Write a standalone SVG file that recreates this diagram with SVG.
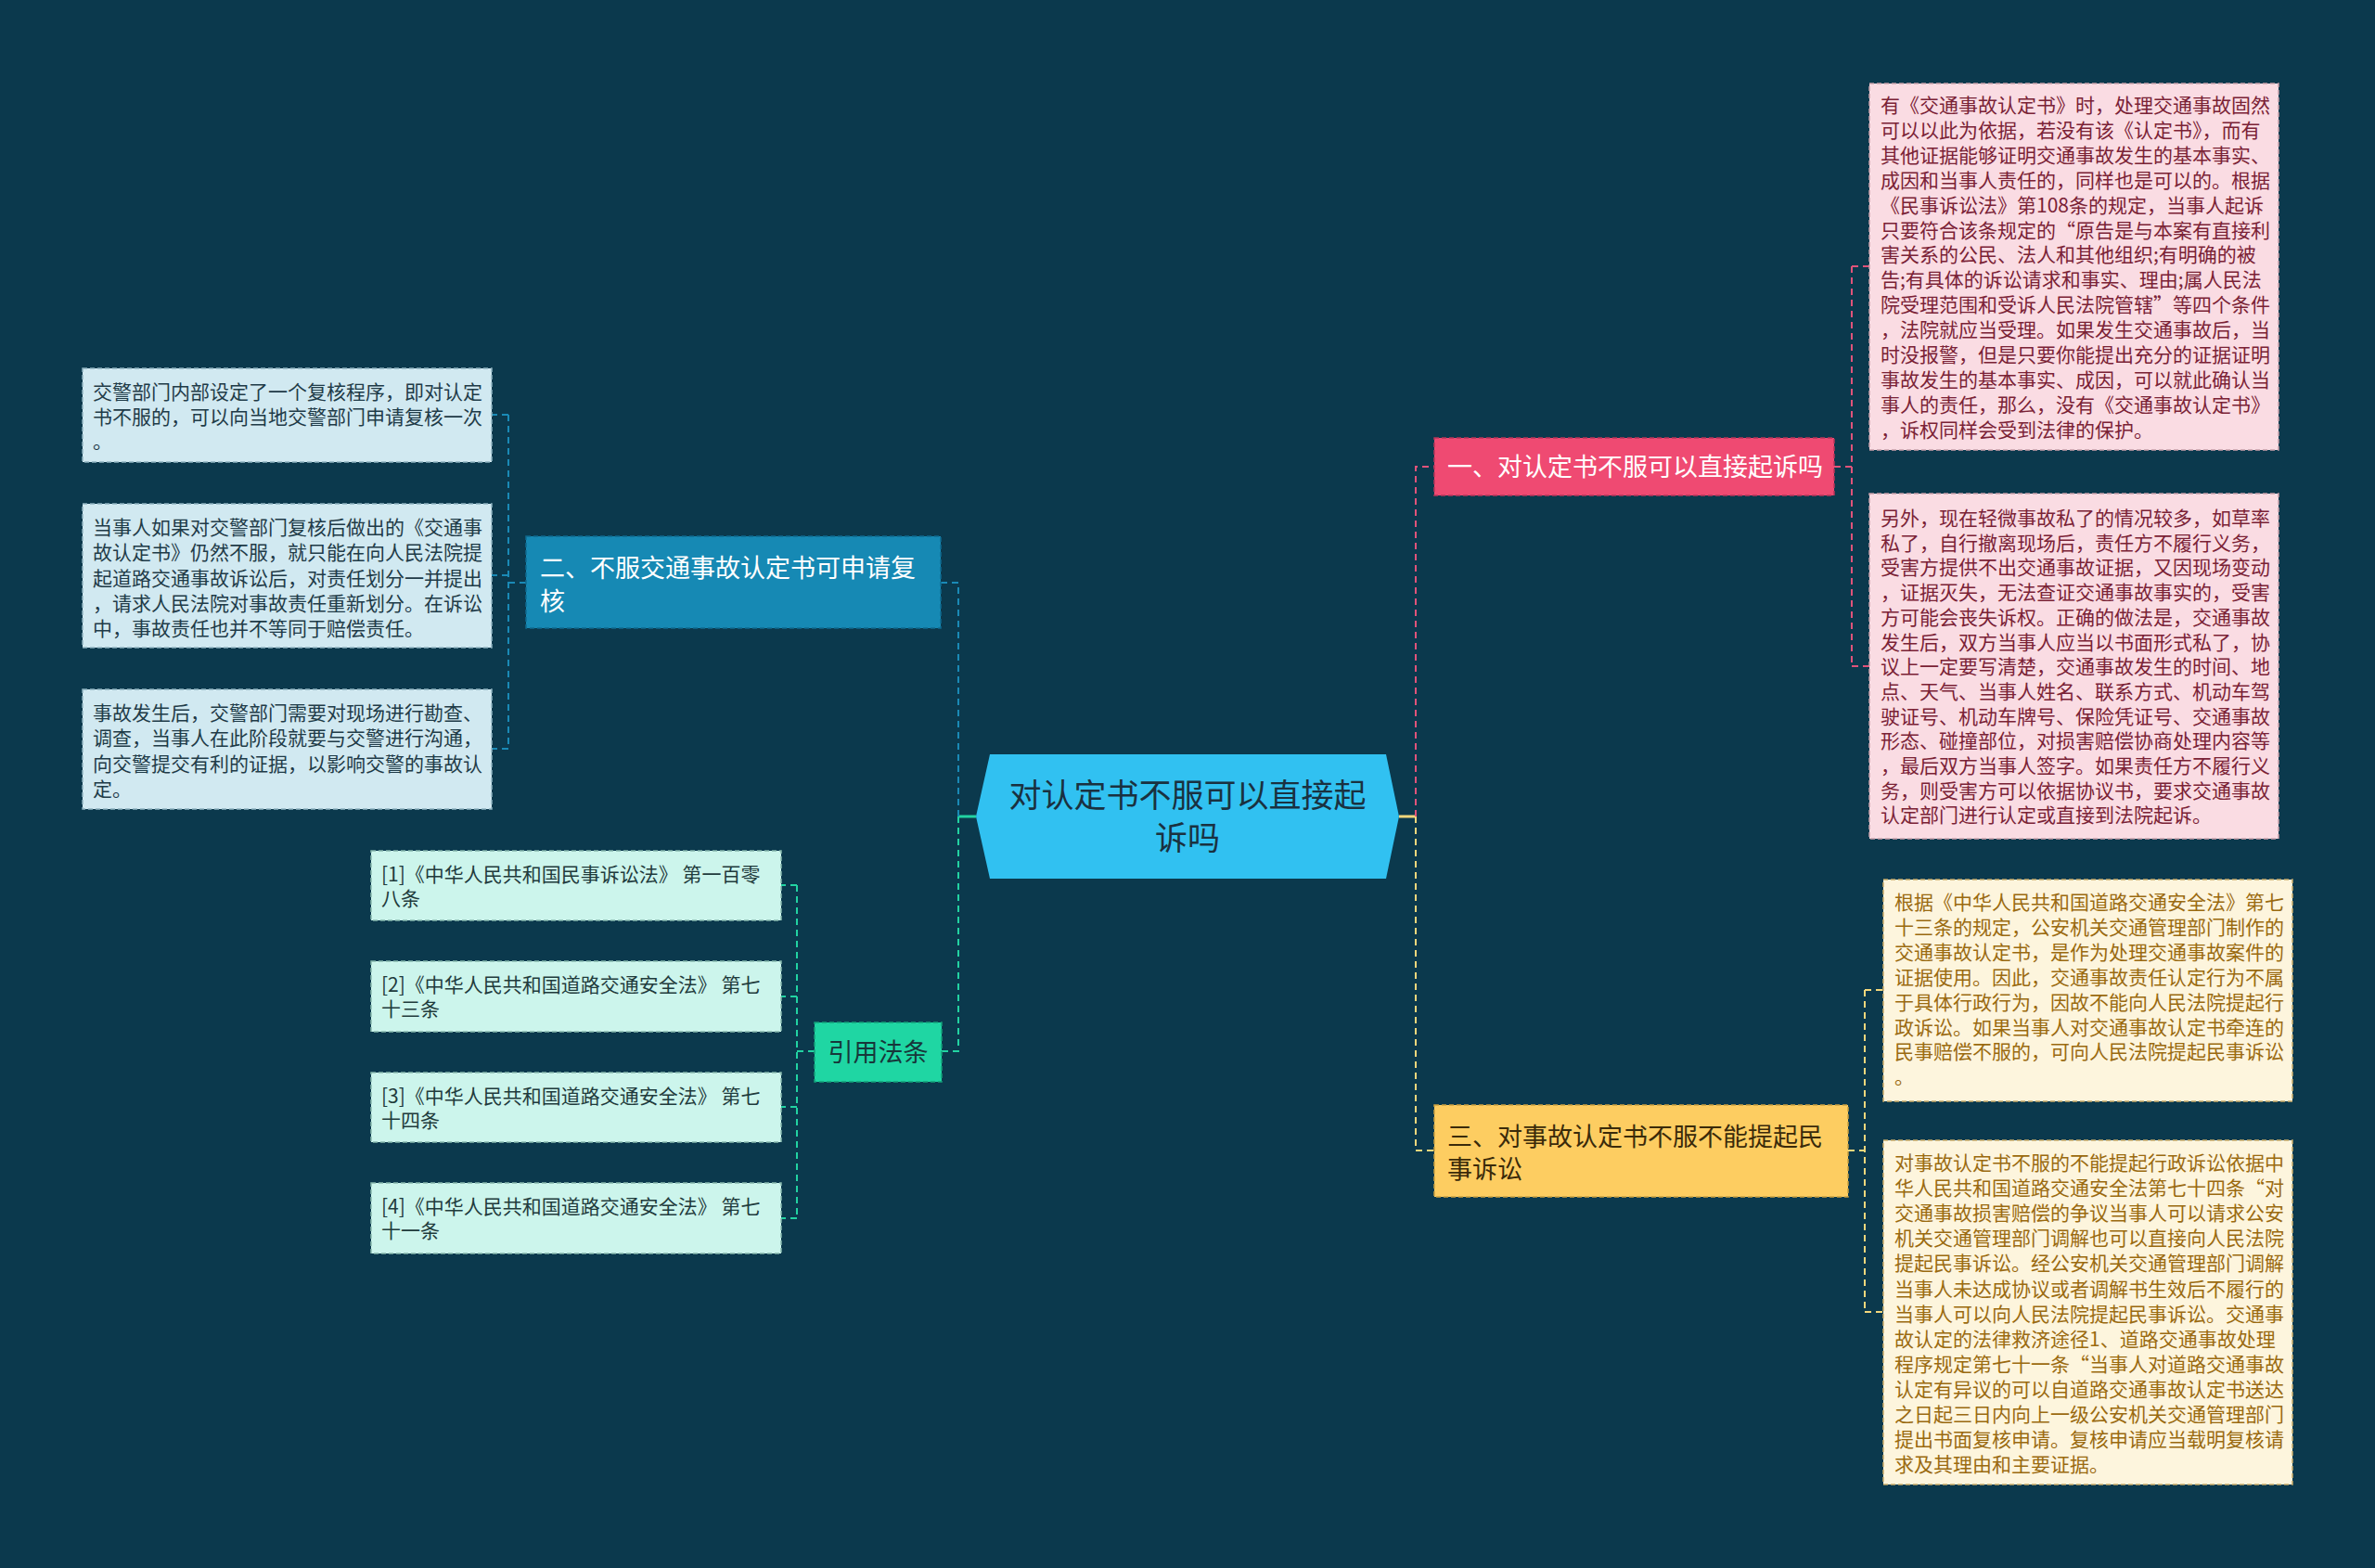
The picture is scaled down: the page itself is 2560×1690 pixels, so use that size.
<svg xmlns="http://www.w3.org/2000/svg" width="2560" height="1690" viewBox="0 0 2560 1690">
<style>
text{font-family:"Noto Sans CJK SC","Noto Sans",sans-serif;}
.lf{font-size:21px;}
.br{font-size:27px;}
.c{fill:none;stroke-width:2;stroke-dasharray:7 5;}
.s{fill:none;stroke-width:3;}
.pk{stroke:#e0537a;} .bl{stroke:#1a8ab6;} .gr{stroke:#22d3a2;} .ye{stroke:#f3d77c;}
.nb{stroke-width:1.5;stroke-dasharray:5 3;}
</style>
<rect width="2560" height="1690" fill="#0b394d"/>
<g id="connectors">
<path class="s gr" d="M1052,880 H1033"/>
<path class="s ye" d="M1508,880 H1527"/>
<path class="c pk" d="M1526,880 V503 H1546"/>
<path class="c pk" d="M1977,503 H1996 M1996,287 V718 M1996,287 H2015 M1996,718 H2015"/>
<path class="c ye" d="M1526,880 V1240 H1546"/>
<path class="c ye" d="M1992,1240 H2010 M2010,1067 V1414 M2010,1067 H2030 M2010,1414 H2030"/>
<path class="c bl" d="M1033,880 V628 H1014"/>
<path class="c bl" d="M567,628 H548 M548,447 V807 M548,447 H530 M548,620 H530 M548,807 H530"/>
<path class="c gr" d="M1033,880 V1133 H1015"/>
<path class="c gr" d="M878,1133 H859 M859,954 V1313 M859,954 H842 M859,1074 H842 M859,1193 H842 M859,1313 H842"/>
</g>
<g id="center">
<polygon points="1067,813 1494,813 1508,880 1494,947 1067,947 1052,880" fill="#31c1f1"/>
<text font-size="35" fill="#1a3140" text-anchor="middle"><tspan x="1280" y="870">对认定书不服可以直接起</tspan><tspan x="1280" y="916">诉吗</tspan></text>
</g>
<g id="branch1">
<rect x="1546" y="472" width="431" height="62" fill="#ef4a72" stroke="#b8345a" class="nb"/>
<text class="br" x="1560" y="513" fill="#ffffff">一、对认定书不服可以直接起诉吗</text>
</g>
<g id="leaf1a">
<rect x="2015" y="90" width="441" height="395" fill="#fadce3" stroke="#c9a0ab" class="nb"/>
<text class="lf" fill="#7a2236"><tspan x="2027" y="121">有《交通事故认定书》时，处理交通事故固然</tspan><tspan x="2027" dy="26.9">可以以此为依据，若没有该《认定书》，而有</tspan><tspan x="2027" dy="26.9">其他证据能够证明交通事故发生的基本事实、</tspan><tspan x="2027" dy="26.9">成因和当事人责任的，同样也是可以的。根据</tspan><tspan x="2027" dy="26.9">《民事诉讼法》第108条的规定，当事人起诉</tspan><tspan x="2027" dy="26.9">只要符合该条规定的“原告是与本案有直接利</tspan><tspan x="2027" dy="26.9">害关系的公民、法人和其他组织;有明确的被</tspan><tspan x="2027" dy="26.9">告;有具体的诉讼请求和事实、理由;属人民法</tspan><tspan x="2027" dy="26.9">院受理范围和受诉人民法院管辖”等四个条件</tspan><tspan x="2027" dy="26.9">，法院就应当受理。如果发生交通事故后，当</tspan><tspan x="2027" dy="26.9">时没报警，但是只要你能提出充分的证据证明</tspan><tspan x="2027" dy="26.9">事故发生的基本事实、成因，可以就此确认当</tspan><tspan x="2027" dy="26.9">事人的责任，那么，没有《交通事故认定书》</tspan><tspan x="2027" dy="26.9">，诉权同样会受到法律的保护。</tspan></text>
</g>
<g id="leaf1b">
<rect x="2015" y="532" width="441" height="372" fill="#fadce3" stroke="#c9a0ab" class="nb"/>
<text class="lf" fill="#7a2236"><tspan x="2027" y="566">另外，现在轻微事故私了的情况较多，如草率</tspan><tspan x="2027" dy="26.7">私了，自行撤离现场后，责任方不履行义务，</tspan><tspan x="2027" dy="26.7">受害方提供不出交通事故证据，又因现场变动</tspan><tspan x="2027" dy="26.7">，证据灭失，无法查证交通事故事实的，受害</tspan><tspan x="2027" dy="26.7">方可能会丧失诉权。正确的做法是，交通事故</tspan><tspan x="2027" dy="26.7">发生后，双方当事人应当以书面形式私了，协</tspan><tspan x="2027" dy="26.7">议上一定要写清楚，交通事故发生的时间、地</tspan><tspan x="2027" dy="26.7">点、天气、当事人姓名、联系方式、机动车驾</tspan><tspan x="2027" dy="26.7">驶证号、机动车牌号、保险凭证号、交通事故</tspan><tspan x="2027" dy="26.7">形态、碰撞部位，对损害赔偿协商处理内容等</tspan><tspan x="2027" dy="26.7">，最后双方当事人签字。如果责任方不履行义</tspan><tspan x="2027" dy="26.7">务，则受害方可以依据协议书，要求交通事故</tspan><tspan x="2027" dy="26.7">认定部门进行认定或直接到法院起诉。</tspan></text>
</g>
<g id="branch3">
<rect x="1546" y="1191" width="446" height="99" fill="#fdcd61" stroke="#c9a040" class="nb"/>
<text class="br" fill="#3a2a0a"><tspan x="1560" y="1235">三、对事故认定书不服不能提起民</tspan><tspan x="1560" y="1270">事诉讼</tspan></text>
</g>
<g id="leaf3a">
<rect x="2030" y="948" width="441" height="239" fill="#fdf5dd" stroke="#c9ac6a" class="nb"/>
<text class="lf" fill="#9a6a10"><tspan x="2042" y="980">根据《中华人民共和国道路交通安全法》第七</tspan><tspan x="2042" dy="26.9">十三条的规定，公安机关交通管理部门制作的</tspan><tspan x="2042" dy="26.9">交通事故认定书，是作为处理交通事故案件的</tspan><tspan x="2042" dy="26.9">证据使用。因此，交通事故责任认定行为不属</tspan><tspan x="2042" dy="26.9">于具体行政行为，因故不能向人民法院提起行</tspan><tspan x="2042" dy="26.9">政诉讼。如果当事人对交通事故认定书牵连的</tspan><tspan x="2042" dy="26.9">民事赔偿不服的，可向人民法院提起民事诉讼</tspan><tspan x="2042" dy="26.9">。</tspan></text>
</g>
<g id="leaf3b">
<rect x="2030" y="1229" width="441" height="371" fill="#fdf5dd" stroke="#c9ac6a" class="nb"/>
<text class="lf" fill="#9a6a10"><tspan x="2042" y="1261">对事故认定书不服的不能提起行政诉讼依据中</tspan><tspan x="2042" dy="27.1">华人民共和国道路交通安全法第七十四条“对</tspan><tspan x="2042" dy="27.1">交通事故损害赔偿的争议当事人可以请求公安</tspan><tspan x="2042" dy="27.1">机关交通管理部门调解也可以直接向人民法院</tspan><tspan x="2042" dy="27.1">提起民事诉讼。经公安机关交通管理部门调解</tspan><tspan x="2042" dy="27.1">当事人未达成协议或者调解书生效后不履行的</tspan><tspan x="2042" dy="27.1">当事人可以向人民法院提起民事诉讼。交通事</tspan><tspan x="2042" dy="27.1">故认定的法律救济途径1、道路交通事故处理</tspan><tspan x="2042" dy="27.1">程序规定第七十一条“当事人对道路交通事故</tspan><tspan x="2042" dy="27.1">认定有异议的可以自道路交通事故认定书送达</tspan><tspan x="2042" dy="27.1">之日起三日内向上一级公安机关交通管理部门</tspan><tspan x="2042" dy="27.1">提出书面复核申请。复核申请应当载明复核请</tspan><tspan x="2042" dy="27.1">求及其理由和主要证据。</tspan></text>
</g>
<g id="branch2">
<rect x="567" y="578" width="447" height="99" fill="#1689b4" stroke="#0f6a8e" class="nb"/>
<text class="br" fill="#ffffff"><tspan x="582" y="622">二、不服交通事故认定书可申请复</tspan><tspan x="582" y="658">核</tspan></text>
</g>
<g id="leaf2a">
<rect x="89" y="397" width="441" height="101" fill="#d1e9f1" stroke="#8fb3c0" class="nb"/>
<text class="lf" fill="#1f3b48"><tspan x="100" y="430">交警部门内部设定了一个复核程序，即对认定</tspan><tspan x="100" dy="26.7">书不服的，可以向当地交警部门申请复核一次</tspan><tspan x="100" dy="26.7">。</tspan></text>
</g>
<g id="leaf2b">
<rect x="89" y="543" width="441" height="155" fill="#d1e9f1" stroke="#8fb3c0" class="nb"/>
<text class="lf" fill="#1f3b48"><tspan x="100" y="576">当事人如果对交警部门复核后做出的《交通事</tspan><tspan x="100" dy="27.3">故认定书》仍然不服，就只能在向人民法院提</tspan><tspan x="100" dy="27.3">起道路交通事故诉讼后，对责任划分一并提出</tspan><tspan x="100" dy="27.3">，请求人民法院对事故责任重新划分。在诉讼</tspan><tspan x="100" dy="27.3">中，事故责任也并不等同于赔偿责任。</tspan></text>
</g>
<g id="leaf2c">
<rect x="89" y="743" width="441" height="129" fill="#d1e9f1" stroke="#8fb3c0" class="nb"/>
<text class="lf" fill="#1f3b48"><tspan x="100" y="776">事故发生后，交警部门需要对现场进行勘查、</tspan><tspan x="100" dy="27.3">调查，当事人在此阶段就要与交警进行沟通，</tspan><tspan x="100" dy="27.3">向交警提交有利的证据，以影响交警的事故认</tspan><tspan x="100" dy="27.3">定。</tspan></text>
</g>
<g id="branch4">
<rect x="878" y="1102" width="137" height="64" fill="#1fd6a3" stroke="#14a07a" class="nb"/>
<text class="br" x="946.5" y="1144" fill="#17363a" text-anchor="middle">引用法条</text>
</g>
<g id="ref1">
<rect x="400" y="917" width="442" height="75" fill="#ccf5ec" stroke="#86b8ad" class="nb"/>
<text class="lf" fill="#1f3b3c"><tspan x="411" y="950">[1]《中华人民共和国民事诉讼法》 第一百零</tspan><tspan x="411" dy="26.3">八条</tspan></text>
</g>
<g id="ref2">
<rect x="400" y="1036" width="442" height="76" fill="#ccf5ec" stroke="#86b8ad" class="nb"/>
<text class="lf" fill="#1f3b3c"><tspan x="411" y="1069">[2]《中华人民共和国道路交通安全法》 第七</tspan><tspan x="411" dy="26.3">十三条</tspan></text>
</g>
<g id="ref3">
<rect x="400" y="1156" width="442" height="75" fill="#ccf5ec" stroke="#86b8ad" class="nb"/>
<text class="lf" fill="#1f3b3c"><tspan x="411" y="1189">[3]《中华人民共和国道路交通安全法》 第七</tspan><tspan x="411" dy="26.3">十四条</tspan></text>
</g>
<g id="ref4">
<rect x="400" y="1275" width="442" height="76" fill="#ccf5ec" stroke="#86b8ad" class="nb"/>
<text class="lf" fill="#1f3b3c"><tspan x="411" y="1308">[4]《中华人民共和国道路交通安全法》 第七</tspan><tspan x="411" dy="26.3">十一条</tspan></text>
</g>
</svg>
